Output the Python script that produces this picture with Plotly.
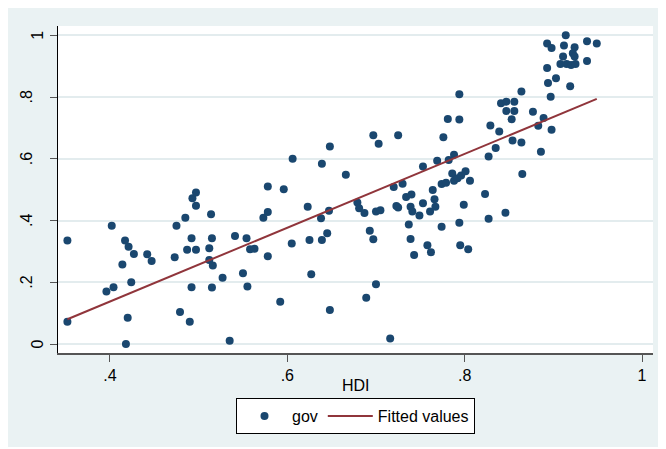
import numpy as np
import plotly.graph_objects as go

# ---- data ----
hdi = [0.352, 0.352, 0.402, 0.396, 0.404, 0.417, 0.421, 0.427, 0.414, 0.424,
       0.420, 0.418, 0.442, 0.447, 0.473, 0.475, 0.485, 0.493, 0.497, 0.497,
       0.514, 0.492, 0.487, 0.497, 0.512, 0.515, 0.512, 0.516, 0.479, 0.490,
       0.492, 0.515, 0.535, 0.592, 0.527, 0.550, 0.555, 0.541, 0.554, 0.558,
       0.563, 0.578, 0.605, 0.625, 0.627, 0.639, 0.645, 0.648, 0.578, 0.578,
       0.573, 0.596, 0.606, 0.623, 0.638, 0.639, 0.648, 0.647, 0.666, 0.679,
       0.681, 0.687, 0.689, 0.697, 0.703, 0.725, 0.693, 0.697, 0.700, 0.705,
       0.700, 0.716, 0.720, 0.730, 0.734, 0.740, 0.723, 0.725, 0.739, 0.741,
       0.737, 0.739, 0.743, 0.749, 0.753, 0.753, 0.758, 0.762, 0.761, 0.764,
       0.766, 0.767, 0.769, 0.776, 0.781, 0.794, 0.794, 0.774, 0.774, 0.779,
       0.782, 0.788, 0.786, 0.788, 0.792, 0.796, 0.801, 0.806, 0.794, 0.799,
       0.795, 0.804, 0.823, 0.827, 0.827, 0.829, 0.835, 0.839, 0.846, 0.841,
       0.847, 0.856, 0.847, 0.856, 0.853, 0.864, 0.877, 0.854, 0.864, 0.889,
       0.883, 0.898, 0.886, 0.865, 0.914, 0.893, 0.898, 0.912, 0.924, 0.938,
       0.949, 0.911, 0.922, 0.924, 0.908, 0.915, 0.920, 0.925, 0.938, 0.893,
       0.894, 0.903, 0.919, 0.897]
gov = [0.335, 0.072, 0.383, 0.170, 0.184, 0.335, 0.315, 0.292, 0.258, 0.200,
       0.085, 0.000, 0.291, 0.269, 0.281, 0.383, 0.409, 0.472, 0.491, 0.448,
       0.420, 0.343, 0.305, 0.305, 0.310, 0.343, 0.272, 0.254, 0.104, 0.072,
       0.184, 0.183, 0.011, 0.137, 0.215, 0.229, 0.186, 0.350, 0.343, 0.307,
       0.309, 0.284, 0.326, 0.337, 0.226, 0.337, 0.359, 0.110, 0.510, 0.428,
       0.409, 0.501, 0.600, 0.445, 0.407, 0.584, 0.640, 0.432, 0.548, 0.458,
       0.440, 0.424, 0.150, 0.676, 0.649, 0.676, 0.367, 0.339, 0.429, 0.433,
       0.194, 0.018, 0.509, 0.519, 0.476, 0.484, 0.447, 0.442, 0.445, 0.429,
       0.387, 0.340, 0.288, 0.416, 0.456, 0.575, 0.320, 0.297, 0.429, 0.499,
       0.469, 0.445, 0.594, 0.670, 0.729, 0.727, 0.809, 0.380, 0.518, 0.522,
       0.596, 0.613, 0.552, 0.529, 0.537, 0.546, 0.560, 0.529, 0.393, 0.451,
       0.320, 0.307, 0.486, 0.406, 0.607, 0.708, 0.635, 0.688, 0.425, 0.780,
       0.785, 0.785, 0.755, 0.755, 0.728, 0.818, 0.752, 0.659, 0.653, 0.732,
       0.707, 0.694, 0.623, 0.551, 1.000, 0.973, 0.959, 0.967, 0.961, 0.981,
       0.973, 0.931, 0.942, 0.931, 0.907, 0.907, 0.904, 0.907, 0.917, 0.894,
       0.845, 0.861, 0.835, 0.801]

x_ticks = [0.4, 0.6, 0.8, 1.0]
x_tick_labels = [".4", ".6", ".8", "1"]
y_ticks = [0, 0.2, 0.4, 0.6, 0.8, 1.0]
y_tick_labels = ["0", ".2", ".4", ".6", ".8", "1"]

# ---- fitted values (OLS of gov on HDI, as Stata's lfit) ----
hx = np.array(hdi)
gy = np.array(gov)
slope, intercept = np.polyfit(hx, gy, 1)
fit_x = np.array([hx.min(), hx.max()])
fit_y = intercept + slope * fit_x

FONT = "Arial, Liberation Sans, sans-serif"
# the page body adds an 8px offset; the figure itself is the bluish graph region
W, H = 652, 439
L, R, T, B = 50, 7, 18, 94
pw, ph = W - L - R, H - T - B

def px_to_paper_x(px):
    return (px - L) / pw

def py_to_paper_y(py):
    return (H - B - py) / ph

fig = go.Figure()
fig.add_trace(go.Scatter(
    x=hdi, y=gov, mode="markers", name="gov",
    marker=dict(color="#1A476F", size=8, line=dict(width=0)),
))
fig.add_trace(go.Scatter(
    x=fit_x, y=fit_y, mode="lines", name="Fitted values",
    line=dict(color="#90353B", width=2),
))

annotations = []
for v, lab in zip(y_ticks, y_tick_labels):
    cx = 29.5 if len(lab) == 1 else 18.5
    annotations.append(dict(
        x=px_to_paper_x(cx), xref="paper", y=v, yref="y",
        text=lab, showarrow=False, textangle=-90,
        xanchor="center", yanchor="middle",
        font=dict(family=FONT, size=16, color="black"),
    ))
annotations.append(dict(
    x=0.5, xref="paper", y=py_to_paper_y(377), yref="paper",
    text="HDI", showarrow=False, xanchor="center", yanchor="middle",
    font=dict(family=FONT, size=16, color="black"),
))

fig.update_layout(
    width=W, height=H,
    margin=dict(l=L, r=R, t=T, b=B, pad=0),
    paper_bgcolor="#EAF2F3", plot_bgcolor="white",
    annotations=annotations,
    font=dict(family=FONT, size=16, color="black"),
    showlegend=True,
    legend=dict(
        orientation="h", x=0.5, xanchor="center",
        y=py_to_paper_y(390), yanchor="top",
        bgcolor="white", bordercolor="black", borderwidth=1,
        font=dict(family=FONT, size=16, color="black"),
        itemwidth=45,
    ),
    xaxis=dict(
        range=[0.3414, 1.0124], tickvals=x_ticks, ticktext=x_tick_labels,
        showgrid=False, zeroline=False,
        showline=True, linecolor="#555555", linewidth=2,
        ticks="outside", ticklen=7, tickcolor="#555555", tickwidth=1,
        tickfont=dict(family=FONT, size=16, color="black"),
    ),
    yaxis=dict(
        range=[-0.029, 1.030], tickvals=y_ticks, showticklabels=False,
        showgrid=True, gridcolor="#E3ECEE", gridwidth=1.5,
        zeroline=False,
        showline=True, linecolor="black", linewidth=1,
        ticks="outside", ticklen=7, tickcolor="#555555", tickwidth=1,
    ),
)

fig.write_html("out.html")
